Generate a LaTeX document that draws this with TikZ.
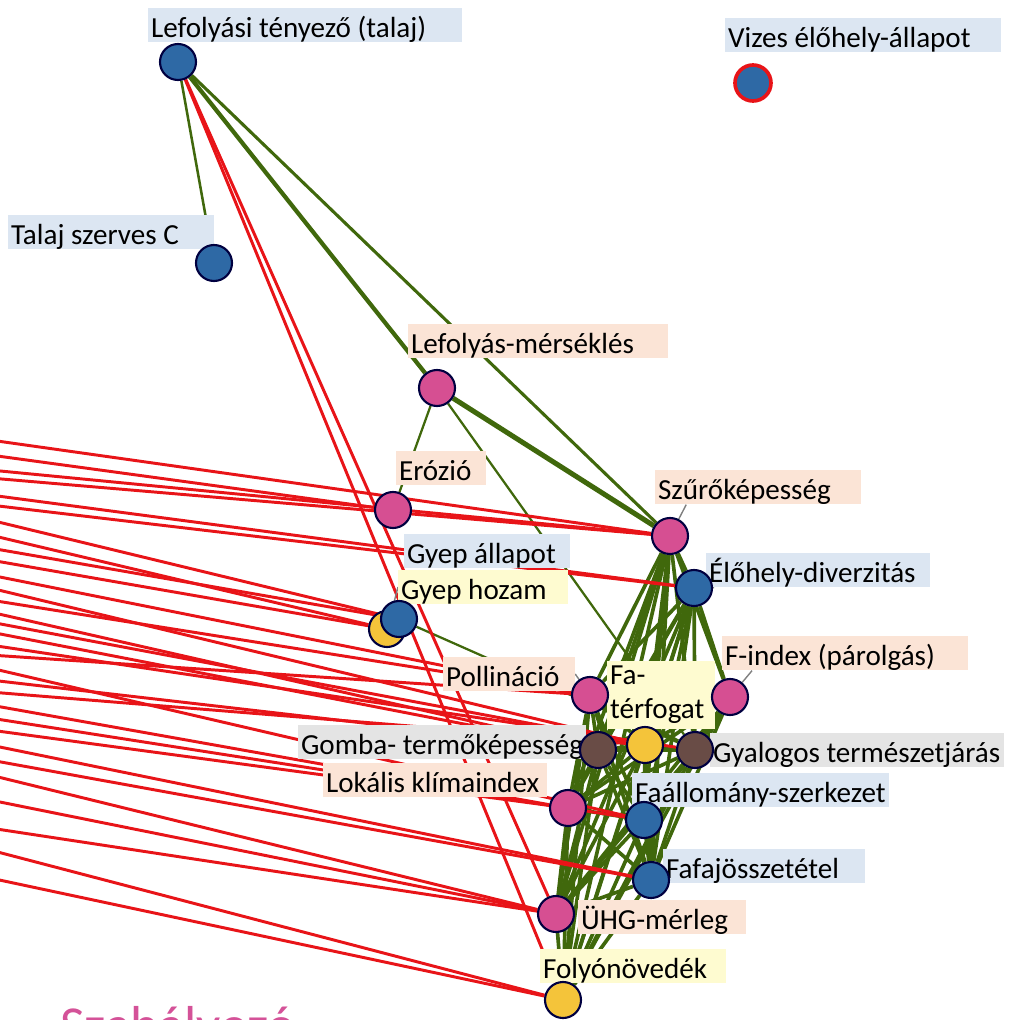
\documentclass[tikz,border=0pt]{standalone}
\usepackage{fontspec}
\setmainfont{Carlito}
\usetikzlibrary{backgrounds}
\definecolor{nblue}{RGB}{46,105,165}
\definecolor{npink}{RGB}{214,79,146}
\definecolor{nyellow}{RGB}{244,196,58}
\definecolor{nbrown}{RGB}{105,76,70}
\definecolor{ered}{RGB}{232,20,24}
\definecolor{egreen}{RGB}{64,104,12}
\definecolor{bblue}{RGB}{220,230,242}
\definecolor{bpeach}{RGB}{251,228,214}
\definecolor{byellow}{RGB}{254,251,208}
\definecolor{bgray}{RGB}{228,228,228}
\definecolor{tpink}{RGB}{212,82,152}
\newlength{\labw}
\newcommand{\padbox}[2]{\settowidth{\labw}{#2}\ifdim\labw<#1\relax\makebox[#1][l]{#2}\else#2\fi}
\newcommand{\putlab}[6]{\node[lbl,fill=#4] (#1) at (#2,#3) {\padbox{#5}{#6}};}

\begin{document}
\begin{tikzpicture}[x=0.025cm,y=-0.025cm,
  dot/.style={circle,draw=black!75!blue,line width=1.5pt,minimum size=0.9cm,inner sep=0pt},
  lbl/.style={anchor=west,inner xsep=2pt,inner ysep=1.5pt,font=\fontsize{20.7}{24}\selectfont,text height=19.5pt,text depth=2.2pt},
  gedge/.style={egreen,line width=2.6pt},
  redge/.style={ered,line width=2.1pt},
  lead/.style={gray,line width=1pt}]
\path[use as bounding box] (0,0) rectangle (1008,1020);
% labels
\putlab{llt}{148}{25}{bblue}{7.7cm}{Lefolyási tényező (talaj)}
\putlab{lve}{725}{35}{bblue}{6.75cm}{Vizes élőhely-állapot}
\putlab{ltc}{8}{232}{bblue}{5cm}{Talaj szerves C}
\putlab{llm}{408}{341}{bpeach}{6.35cm}{Lefolyás-mérséklés}
\putlab{ler}{396}{468}{bpeach}{2.1cm}{Erózió}
\putlab{lsz}{655}{487}{bpeach}{5cm}{Szűrőképesség}
\putlab{leh}{706}{570}{bblue}{5.45cm}{Élőhely-diverzitás}
\putlab{lga}{404}{551}{bblue}{4cm}{Gyep állapot}
\putlab{lgh}{398}{587}{byellow}{4.1cm}{Gyep hozam}
\putlab{lpo}{443}{674}{bpeach}{3.15cm}{Pollináció}
\putlab{lfi}{722}{653}{bpeach}{6cm}{F-index (párolgás)}
\putlab{lgo}{298}{742}{bgray}{7cm}{Gomba- termőképesség}
\putlab{lgt}{710}{750}{bgray}{7.2cm}{Gyalogos természetjárás}
\putlab{llk}{323}{780}{bpeach}{5.45cm}{Lokális klímaindex}
\putlab{lfs}{632}{790}{bblue}{6.25cm}{Faállomány-szerkezet}
\putlab{lff}{663}{866}{bblue}{4.9cm}{Fafajösszetétel}
\putlab{luh}{578}{917}{bpeach}{4.05cm}{ÜHG-mérleg}
\putlab{lfn}{540}{966}{byellow}{4.5cm}{Folyónövedék}
\node[lbl,fill=byellow,align=left,text width=2.55cm,text height=,text depth=,inner ysep=4pt] (lft) at (607,695) {Fa-\\térfogat};
\node[anchor=base west,inner sep=0pt,text=tpink,font=\fontsize{38}{40}\selectfont] (szab) at (60,1043) {Szabályozó};
% nodes
\node[dot,fill=nblue] (lt) at (178,62) {};
\node[dot,fill=nblue,draw=ered,line width=2.6pt] (ve) at (753,83) {};
\node[dot,fill=nblue] (tc) at (214,263) {};
\node[dot,fill=npink] (lm) at (437,388) {};
\node[dot,fill=npink] (er) at (393,510) {};
\node[dot,fill=npink] (sz) at (670,536) {};
\node[dot,fill=nblue] (eh) at (694,588) {};
\node[dot,fill=nyellow] (gh) at (387,629) {};
\node[dot,fill=nblue] (ga) at (399,619) {};
\node[dot,fill=npink] (po) at (590,695) {};
\node[dot,fill=npink] (fi) at (730,697) {};
\node[dot,fill=nyellow] (ft) at (645,745) {};
\node[dot,fill=nbrown] (go) at (598,750) {};
\node[dot,fill=nbrown] (gt) at (695,750) {};
\node[dot,fill=npink] (lk) at (568,808) {};
\node[dot,fill=nblue] (fs) at (644,820) {};
\node[dot,fill=nblue] (ff) at (651,880) {};
\node[dot,fill=npink] (uh) at (556,914) {};
\node[dot,fill=nyellow] (fn) at (563,1000) {};
\begin{scope}[on background layer]
% green links
\draw[gedge,line width=1.8pt] (lt) -- (tc);
\draw[gedge,line width=3pt] (lt) -- (lm);
\draw[gedge,line width=2.2pt] (lt) -- (sz);
\draw[gedge,line width=3.6pt] (lm) -- (sz);
\draw[gedge,line width=1.6pt] (lm) -- (er);
\draw[gedge,line width=1.6pt] (lm) -- (gt);
\draw[gedge,line width=1.6pt] (ga) -- (gt);
\foreach \a [count=\i] in {sz,eh,fi,po,ft,go,gt,lk,fs,ff,uh,fn}{
  \foreach \b [count=\j] in {sz,eh,fi,po,ft,go,gt,lk,fs,ff,uh,fn}{
    \ifnum\j>\i \draw[gedge] (\a) -- (\b); \fi
  }
}
% red links
\draw[redge] (lt) -- (uh);
\draw[redge] (lt) -- (fn);
\foreach \y/\t in {440/sz,455/er,470/sz,478/sz,495/eh,505/eh,520/ga,535/gh,548/ga,
  560/gh,575/po,588/ft,600/po,612/go,622/ft,632/go,645/gt,655/po,668/fs,680/go,
  692/ft,705/lk,718/fs,730/lk,745/ff,760/ff,775/uh,800/uh,828/uh,850/fn,878/fn}{
  \coordinate (in\y) at (-10,\y);
  \draw[redge] (in\y) -- (\t);
}
% leaders
\draw[lead] ([xshift=0.78cm]lsz.south west) -- (sz);
\draw[lead] ([xshift=0.2cm]leh.south west) -- (eh);
\draw[lead] ([xshift=0.75cm]lfi.south west) -- (fi);
\draw[lead] (lpo.east) -- (po);
\draw[lead] (lgh.west) -- (gh);
\end{scope}
\end{tikzpicture}
\end{document}
